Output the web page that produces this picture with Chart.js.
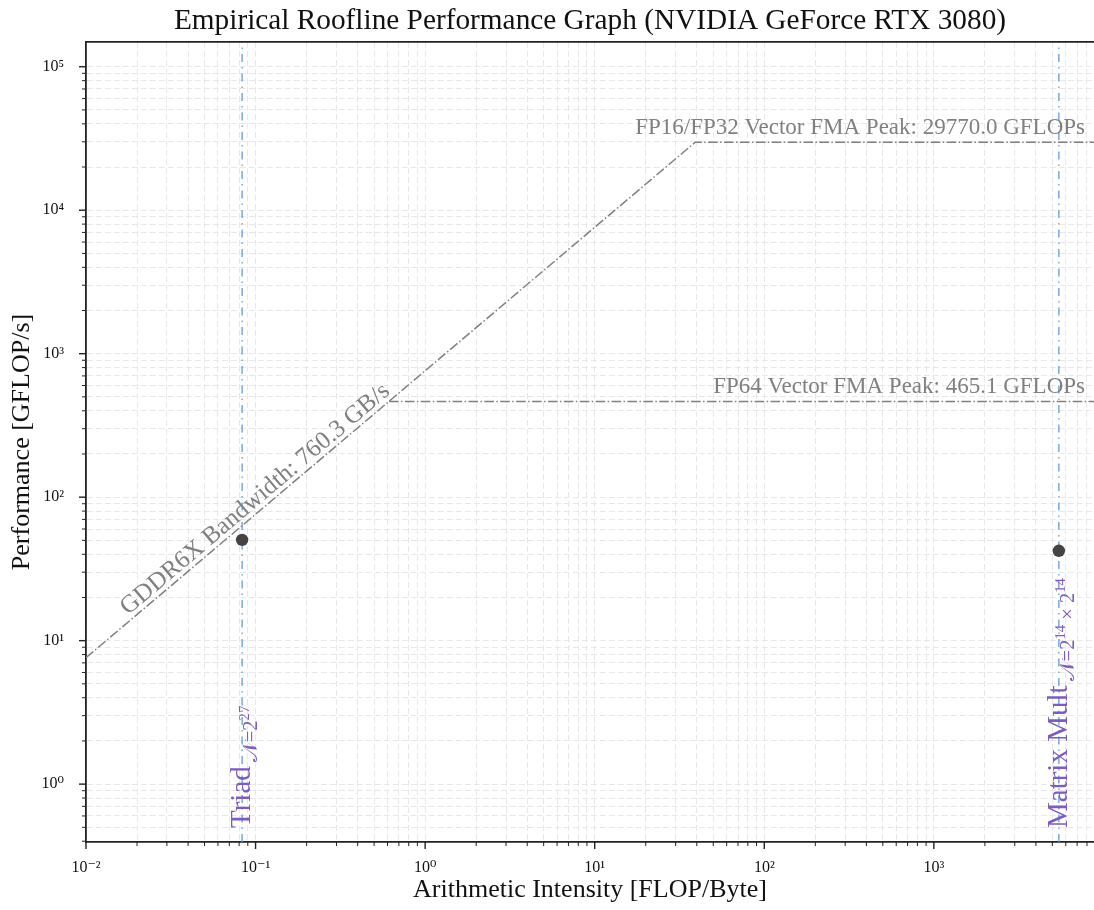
<!DOCTYPE html>
<html>
<head>
<meta charset="utf-8">
<script src="https://cdn.jsdelivr.net/npm/chart.js@4.4.0/dist/chart.umd.min.js"></script>
<style>
  html, body { margin: 0; padding: 0; background: #ffffff; }
  #wrap { width: 1094px; height: 910px; }
</style>
</head>
<body>
<div id="wrap"><canvas id="roofline" width="1094" height="910"></canvas></div>
<script>
// Measured device limits (GB/s and GFLOP/s)
const bandwidthName = 'GDDR6X';
const bandwidthGBs = 760.3;
const peakNames = ['FP16/FP32 Vector FMA Peak', 'FP64 Vector FMA Peak'];
const peakGFLOPs = [29770.0, 465.1];

// Benchmarked kernels
const kernelNames = ['Triad', 'Matrix Mult'];
const kernelSizes = ['𝒩=2^27', '𝒩=2^14 × 2^14'];
const kernelIntensity = [0.0833, 5461.3];
const kernelPerf = [50.4, 42.3];

// Axis ranges and decade labels
const xRange = [0.01, 8800];
const yRange = [0.395, 148850];
const xTickValues = [0.01, 0.1, 1, 10, 100, 1000];
const xTickLabels = ['10⁻²', '10⁻¹', '10⁰', '10¹', '10²', '10³'];
const yTickValues = [1, 10, 100, 1000, 10000, 100000];
const yTickLabels = ['10⁰', '10¹', '10²', '10³', '10⁴', '10⁵'];

const FONT = "'Liberation Serif', 'DejaVu Serif', serif";
const ROOF_COLOR = '#808080';
const KERNEL_LINE = '#5f9ddc';
const KERNEL_TEXT = '#7d5cc0';
const DASH_DOT = [9.6, 2.4, 1.5, 2.4];

function logTicks(min, max) {
  const out = [];
  for (let e = Math.floor(Math.log10(min)); e <= Math.ceil(Math.log10(max)); e++) {
    for (let m = 1; m <= 9; m++) {
      const v = parseFloat((m * Math.pow(10, e)).toPrecision(6));
      if (v >= min * 0.9999 && v <= max * 1.0001) out.push({ value: v, major: m === 1 });
    }
  }
  return out;
}

function tickText(value, values, labels) {
  const i = values.findIndex(v => Math.abs(Math.log10(v) - Math.log10(value)) < 1e-6);
  return i >= 0 ? labels[i] : '';
}

// Split "a^12b" into plain and superscript runs
function parseRuns(text) {
  const runs = [];
  const re = /\^(\d+)/g;
  let last = 0, m;
  while ((m = re.exec(text)) !== null) {
    if (m.index > last) runs.push({ t: text.slice(last, m.index), sup: false });
    runs.push({ t: m[1], sup: true });
    last = re.lastIndex;
  }
  if (last < text.length) runs.push({ t: text.slice(last), sup: false });
  return runs;
}

function drawRuns(ctx, runs, x, y, size) {
  let cx = x;
  runs.forEach(r => {
    const s = r.sup ? size * 0.72 : size;
    ctx.font = `${s}px ${FONT}`;
    ctx.fillText(r.t, cx, r.sup ? y - size * 0.42 : y);
    cx += ctx.measureText(r.t).width;
  });
  return cx - x;
}

const ridge = peakGFLOPs.map(p => p / bandwidthGBs);

const roofSets = [
  {
    data: [
      { x: xRange[0], y: bandwidthGBs * xRange[0] },
      { x: ridge[0], y: peakGFLOPs[0] },
      { x: xRange[1], y: peakGFLOPs[0] }
    ]
  },
  {
    data: [
      { x: ridge[1], y: peakGFLOPs[1] },
      { x: xRange[1], y: peakGFLOPs[1] }
    ]
  }
].map(d => Object.assign(d, {
  showLine: true, borderColor: ROOF_COLOR, borderWidth: 1.5, borderDash: DASH_DOT,
  pointRadius: 0, order: 2
}));

const kernelLineSets = kernelIntensity.map(ai => ({
  data: [{ x: ai, y: yRange[0] }, { x: ai, y: yRange[1] }],
  showLine: true, borderColor: KERNEL_LINE, borderWidth: 1.3, borderDash: [8, 5, 1.5, 5],
  pointRadius: 0, order: 3
}));

const kernelPointSet = {
  data: kernelIntensity.map((x, i) => ({ x, y: kernelPerf[i] })),
  showLine: false, pointRadius: 6.2, pointHoverRadius: 6.2,
  backgroundColor: '#444444', borderWidth: 0, order: 0
};

const rooflineText = {
  id: 'rooflineText',
  afterDraw(chart) {
    const { ctx, chartArea: a, scales: { x, y } } = chart;
    ctx.save();

    // top spine
    ctx.strokeStyle = '#222222';
    ctx.lineWidth = 1.8;
    ctx.beginPath();
    ctx.moveTo(a.left - 0.9, a.top);
    ctx.lineTo(a.right, a.top);
    ctx.stroke();

    // outward tick marks, long for decades, short for the rest
    [x, y].forEach(s => {
      s.ticks.forEach(t => {
        const major = Math.abs(Math.log10(t.value) - Math.round(Math.log10(t.value))) < 1e-6;
        const len = major ? 7 : 4;
        ctx.lineWidth = major ? 1.4 : 1;
        const p = s.getPixelForValue(t.value);
        ctx.beginPath();
        if (s === x) { ctx.moveTo(p, a.bottom); ctx.lineTo(p, a.bottom + len); }
        else { ctx.moveTo(a.left, p); ctx.lineTo(a.left - len, p); }
        ctx.stroke();
      });
    });

    // peak labels above the flat roofs
    ctx.fillStyle = ROOF_COLOR;
    ctx.font = `23px ${FONT}`;
    ctx.textAlign = 'right';
    ctx.textBaseline = 'alphabetic';
    peakNames.forEach((n, i) => {
      ctx.fillText(`${n}: ${peakGFLOPs[i].toFixed(1)} GFLOPs`, a.right - 9, y.getPixelForValue(peakGFLOPs[i]) - 8);
    });

    // bandwidth label along the sloped roof
    const x0 = 0.0185;
    const px = x.getPixelForValue(x0), py = y.getPixelForValue(bandwidthGBs * x0);
    const qx = x.getPixelForValue(10), qy = y.getPixelForValue(bandwidthGBs * 10);
    const ang = Math.atan2(qy - py, qx - px);
    ctx.save();
    ctx.translate(px, py);
    ctx.rotate(ang);
    ctx.textAlign = 'left';
    ctx.font = `25px ${FONT}`;
    ctx.fillText(`${bandwidthName} Bandwidth: ${bandwidthGBs.toFixed(1)} GB/s`, 0, -5);
    ctx.restore();

    // kernel names, written upward along their intensity lines
    ctx.fillStyle = KERNEL_TEXT;
    ctx.textAlign = 'left';
    kernelNames.forEach((n, i) => {
      const lx = x.getPixelForValue(kernelIntensity[i]);
      ctx.save();
      ctx.translate(lx, a.bottom - 14);
      ctx.rotate(-Math.PI / 2);
      ctx.font = `29px ${FONT}`;
      ctx.fillText(n, 0, 8);
      const w = ctx.measureText(n).width;
      drawRuns(ctx, parseRuns(kernelSizes[i]), w + 4, 15, 20.5);
      ctx.restore();
    });

    ctx.restore();
  }
};

new Chart(document.getElementById('roofline'), {
  type: 'scatter',
  data: { datasets: [kernelPointSet, ...roofSets, ...kernelLineSets] },
  options: {
    responsive: false,
    devicePixelRatio: 1,
    animation: false,
    layout: { autoPadding: false, padding: { left: 0, right: 0, top: 0, bottom: 0 } },
    plugins: {
      legend: { display: false },
      tooltip: { enabled: false },
      title: {
        display: true,
        fullSize: false,
        text: 'Empirical Roofline Performance Graph (NVIDIA GeForce RTX 3080)',
        color: '#111111',
        font: { family: FONT, size: 29.3, weight: 'normal' },
        padding: { top: 4, bottom: 2.8 }
      }
    },
    scales: {
      x: {
        type: 'logarithmic',
        position: 'bottom',
        min: xRange[0],
        max: xRange[1],
        afterBuildTicks: s => { s.ticks = logTicks(xRange[0], xRange[1]); },
        afterFit: s => { s.height = 68; s.paddingLeft = 0; s.paddingRight = 0; },
        ticks: {
          autoSkip: false, maxRotation: 0, minRotation: 0, padding: 16,
          color: '#111111', font: { family: FONT, size: 16 },
          callback: v => tickText(v, xTickValues, xTickLabels)
        },
        grid: { color: '#e8e8e8', lineWidth: 1, drawTicks: false },
        border: { display: true, color: '#222222', width: 1.8, dash: [6, 3] },
        title: {
          display: true, text: 'Arithmetic Intensity [FLOP/Byte]', color: '#111111',
          font: { family: FONT, size: 26 }, padding: { top: 0, bottom: 4.5 }
        }
      },
      y: {
        type: 'logarithmic',
        position: 'left',
        min: yRange[0],
        max: yRange[1],
        afterBuildTicks: s => { s.ticks = logTicks(yRange[0], yRange[1]); },
        afterFit: s => { s.width = 86; s.paddingTop = 0; s.paddingBottom = 0; },
        ticks: {
          autoSkip: false, padding: 22,
          color: '#111111', font: { family: FONT, size: 16 },
          callback: v => tickText(v, yTickValues, yTickLabels)
        },
        grid: { color: '#e8e8e8', lineWidth: 1, drawTicks: false },
        border: { display: true, color: '#222222', width: 1.8, dash: [6, 3] },
        title: {
          display: true, text: 'Performance [GFLOP/s]', color: '#111111',
          font: { family: FONT, size: 26 }, padding: { top: 6.4, bottom: 0 }
        }
      }
    }
  },
  plugins: [rooflineText]
});
</script>
</body>
</html>
